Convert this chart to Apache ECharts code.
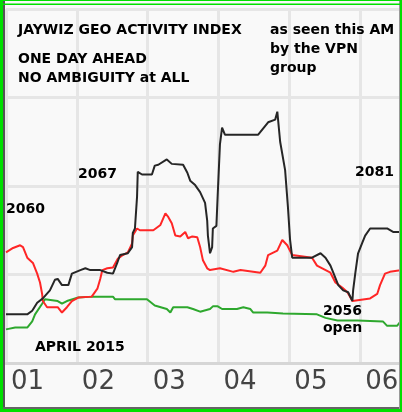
<!DOCTYPE html>
<html>
<head>
<meta charset="utf-8">
<script src="https://cdn.jsdelivr.net/npm/echarts@6/dist/echarts.min.js"></script>
<style>
html,body{margin:0;padding:0;background:#f9f9f9;}
#c{width:402px;height:412px;}
</style>
</head>
<body>
<div id="c"></div>
<script>
// x tick labels (days of April 2015)
var tickLabels = ['01','02','03','04','05','06'];

// Black series (index, VPN group view)
var blackX = [0, 0.30, 0.37, 0.44, 0.52, 0.62, 0.69, 0.73, 0.79, 0.88, 0.93, 1.05, 1.12, 1.19, 1.33, 1.43, 1.51, 1.57, 1.61, 1.72, 1.78, 1.79, 1.82, 1.85, 1.86, 1.92, 2.06, 2.10, 2.15, 2.27, 2.34, 2.50, 2.56, 2.60, 2.67, 2.74, 2.81, 2.84, 2.85, 2.88, 2.91, 2.92, 2.97, 2.99, 3.02, 3.05, 3.09, 3.56, 3.62, 3.70, 3.80, 3.83, 3.87, 3.94, 3.98, 4.01, 4.04, 4.11, 4.32, 4.44, 4.51, 4.58, 4.62, 4.69, 4.76, 4.83, 4.89, 4.90, 4.93, 4.97, 5.03, 5.07, 5.14, 5.38, 5.47, 5.59];
var blackY = [5.5, 5.5, 5.9, 6.8, 7.3, 8.2, 9.4, 9.5, 8.8, 8.8, 10.1, 10.5, 10.7, 10.5, 10.5, 10.2, 10.1, 11.3, 12.2, 12.4, 13.1, 14.7, 15.2, 18.8, 21.6, 21.3, 21.3, 22.3, 22.4, 23.0, 22.5, 22.4, 21.5, 20.6, 20.1, 19.3, 18.1, 16.1, 14.4, 12.4, 13.1, 15.2, 15.5, 19.3, 24.7, 26.6, 25.8, 25.8, 26.4, 27.2, 27.5, 28.4, 25.0, 21.8, 17.6, 13.9, 11.9, 11.9, 11.9, 12.4, 11.9, 11.0, 10.2, 8.8, 8.2, 8.0, 7.0, 8.2, 10.1, 12.4, 13.6, 14.4, 15.2, 15.2, 14.8, 14.8];

// Red series
var redX = [0, 0.10, 0.20, 0.24, 0.30, 0.38, 0.44, 0.48, 0.51, 0.52, 0.58, 0.73, 0.79, 0.86, 0.93, 1.02, 1.21, 1.29, 1.33, 1.36, 1.43, 1.51, 1.58, 1.65, 1.72, 1.78, 1.79, 1.85, 1.89, 2.08, 2.18, 2.25, 2.29, 2.34, 2.39, 2.46, 2.53, 2.57, 2.63, 2.70, 2.74, 2.78, 2.84, 2.88, 3.02, 3.21, 3.31, 3.59, 3.66, 3.70, 3.83, 3.90, 3.97, 4.04, 4.32, 4.39, 4.58, 4.65, 4.75, 4.82, 4.89, 5.14, 5.24, 5.28, 5.35, 5.42, 5.59];
var redY = [12.5, 13.0, 13.3, 13.1, 11.9, 11.3, 10.1, 9.1, 7.8, 7.0, 6.3, 6.3, 5.7, 6.3, 7.0, 7.4, 7.5, 8.4, 9.5, 10.5, 10.7, 10.8, 11.8, 12.2, 12.5, 13.5, 14.4, 15.2, 15.0, 15.0, 15.6, 16.9, 16.5, 15.8, 14.4, 14.3, 14.8, 14.1, 14.3, 14.2, 13.1, 11.6, 10.7, 10.5, 10.7, 10.3, 10.5, 10.2, 11.0, 12.2, 12.7, 13.9, 13.3, 12.2, 11.9, 11.0, 10.2, 9.1, 8.5, 8.0, 7.0, 7.3, 7.8, 8.8, 10.1, 10.3, 10.5];

// Green series
var greenX = [0, 0.13, 0.30, 0.37, 0.41, 0.51, 0.55, 0.73, 0.79, 0.86, 1.02, 1.23, 1.51, 1.54, 1.99, 2.10, 2.27, 2.32, 2.36, 2.56, 2.64, 2.74, 2.88, 2.92, 2.99, 3.05, 3.26, 3.35, 3.45, 3.49, 3.69, 3.91, 4.39, 4.51, 4.68, 4.96, 5.32, 5.38, 5.52, 5.59];
var greenY = [3.8, 4.0, 4.0, 4.7, 5.5, 6.7, 7.2, 7.0, 6.7, 7.0, 7.4, 7.5, 7.5, 7.2, 7.2, 6.5, 6.1, 5.7, 6.3, 6.3, 6.1, 5.8, 6.1, 6.4, 6.4, 6.1, 6.1, 6.3, 6.1, 5.7, 5.7, 5.6, 5.5, 5.1, 4.8, 4.8, 4.7, 4.2, 4.2, 4.9];

function zip(xs, ys) { return xs.map(function (x, i) { return [x, ys[i]]; }); }

var FONT = 'DejaVu Sans';
function label(text, x, baseline) {
  return {
    type: 'text', x: x, y: baseline - 5, z: 100,
    style: { text: text, font: 'bold 14px "' + FONT + '"', fill: '#000', verticalAlign: 'middle', align: 'left' }
  };
}

var chart = echarts.init(document.getElementById('c'), null, { renderer: 'canvas' });
chart.setOption({
  animation: false,
  backgroundColor: '#f9f9f9',
  grid: { left: 6, right: 0, top: 9, bottom: 49 },
  xAxis: {
    type: 'value', min: 0, max: 5.59, interval: 1,
    axisLine: { show: true, lineStyle: { color: '#d6d6d6', width: 3 } },
    axisTick: { show: false },
    splitLine: { show: true, lineStyle: { color: '#e6e6e6', width: 3 } },
    axisLabel: {
      showMaxLabel: false,
      align: 'left', margin: 6,
      padding: [0, 0, 0, 5],
      color: '#444', fontFamily: FONT, fontSize: 26,
      formatter: function (v) {
        var i = Math.round(v);
        return Math.abs(v - i) < 1e-6 && tickLabels[i] ? tickLabels[i] : '';
      }
    }
  },
  yAxis: {
    type: 'value', min: 0, max: 40, interval: 10,
    axisLine: { show: false }, axisTick: { show: false }, axisLabel: { show: false },
    splitLine: { show: true, lineStyle: { color: '#e6e6e6', width: 3 } }
  },
  series: [
    { type: 'line', data: zip(greenX, greenY), showSymbol: false, z: 2,
      lineStyle: { color: '#2ea82e', width: 2 } },
    { type: 'line', data: zip(redX, redY), showSymbol: false, z: 3,
      lineStyle: { color: '#ff2626', width: 2 } },
    { type: 'line', data: zip(blackX, blackY), showSymbol: false, z: 4,
      lineStyle: { color: '#262626', width: 2 } }
  ],
  graphic: [
    // frame
    { type: 'rect', shape: { x: 0, y: 0, width: 3, height: 412 }, style: { fill: '#00e000' }, z: 200 },
    { type: 'rect', shape: { x: 3, y: 0, width: 2, height: 412 }, style: { fill: '#555' }, z: 199 },
    { type: 'rect', shape: { x: 0, y: 0, width: 402, height: 1 }, style: { fill: '#00e000' }, z: 200 },
    { type: 'rect', shape: { x: 0, y: 3.5, width: 402, height: 1.5 }, style: { fill: '#00e000' }, z: 200 },
    { type: 'rect', shape: { x: 0, y: 407, width: 402, height: 2 }, style: { fill: '#666' }, z: 199 },
    { type: 'rect', shape: { x: 0, y: 409, width: 402, height: 3 }, style: { fill: '#00e000' }, z: 200 },
    { type: 'rect', shape: { x: 399, y: 0, width: 1, height: 412 }, style: { fill: '#999' }, z: 199 },
    { type: 'rect', shape: { x: 400, y: 0, width: 2, height: 412 }, style: { fill: '#00e000' }, z: 200 },
    // annotations
    label('JAYWIZ GEO ACTIVITY INDEX', 18, 35),
    label('ONE DAY AHEAD', 18, 64),
    label('NO AMBIGUITY at ALL', 18, 83),
    label('as seen this AM', 270, 35),
    label('by the VPN', 270, 54),
    label('group', 270, 73),
    label('2060', 6, 214),
    label('2067', 78, 179),
    label('2081', 355, 177),
    label('2056', 323, 316),
    label('open', 323, 333),
    label('APRIL 2015', 35, 352)
  ]
});
</script>
</body>
</html>
